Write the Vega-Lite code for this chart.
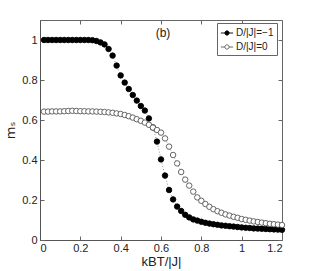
{
"$schema": "https://vega.github.io/schema/vega-lite/v6.json",
"width": 242, "height": 220,
"autosize": "none",
"padding": {"left": 40, "top": 20, "right": 29, "bottom": 31},
"background": "white",
"config": {"font": "Liberation Sans", "view": {"stroke": "#666", "strokeWidth": 1},
  "axis": {"grid": false, "domainColor": "#555", "tickColor": "#666", "tickSize": -4, "labelFontSize": 11, "labelColor": "#222", "titleColor": "#222", "titleFontWeight": "normal", "titleFontSize": 13, "labelFont": "Liberation Sans", "format": "~g"}},
"datasets": {
"pts": [
{"T":0.02,"m":1.0,"s":"D/|J|=−1"},{"T":0.04,"m":1.0,"s":"D/|J|=−1"},{"T":0.06,"m":1.0,"s":"D/|J|=−1"},{"T":0.08,"m":1.0,"s":"D/|J|=−1"},{"T":0.10,"m":1.0,"s":"D/|J|=−1"},{"T":0.12,"m":1.0,"s":"D/|J|=−1"},{"T":0.14,"m":1.0,"s":"D/|J|=−1"},{"T":0.16,"m":1.0,"s":"D/|J|=−1"},{"T":0.18,"m":1.0,"s":"D/|J|=−1"},{"T":0.20,"m":1.0,"s":"D/|J|=−1"},{"T":0.22,"m":1.0,"s":"D/|J|=−1"},{"T":0.24,"m":1.0,"s":"D/|J|=−1"},{"T":0.26,"m":0.999,"s":"D/|J|=−1"},{"T":0.28,"m":0.995,"s":"D/|J|=−1"},{"T":0.30,"m":0.988,"s":"D/|J|=−1"},{"T":0.32,"m":0.978,"s":"D/|J|=−1"},{"T":0.34,"m":0.955,"s":"D/|J|=−1"},{"T":0.36,"m":0.922,"s":"D/|J|=−1"},{"T":0.38,"m":0.872,"s":"D/|J|=−1"},{"T":0.40,"m":0.823,"s":"D/|J|=−1"},{"T":0.42,"m":0.787,"s":"D/|J|=−1"},{"T":0.44,"m":0.755,"s":"D/|J|=−1"},{"T":0.46,"m":0.725,"s":"D/|J|=−1"},{"T":0.48,"m":0.697,"s":"D/|J|=−1"},{"T":0.50,"m":0.670,"s":"D/|J|=−1"},{"T":0.52,"m":0.647,"s":"D/|J|=−1"},{"T":0.54,"m":0.608,"s":"D/|J|=−1"},{"T":0.56,"m":0.563,"s":"D/|J|=−1"},{"T":0.58,"m":0.492,"s":"D/|J|=−1"},{"T":0.60,"m":0.403,"s":"D/|J|=−1"},{"T":0.62,"m":0.322,"s":"D/|J|=−1"},{"T":0.64,"m":0.250,"s":"D/|J|=−1"},{"T":0.66,"m":0.203,"s":"D/|J|=−1"},{"T":0.68,"m":0.167,"s":"D/|J|=−1"},{"T":0.70,"m":0.145,"s":"D/|J|=−1"},{"T":0.72,"m":0.126,"s":"D/|J|=−1"},{"T":0.74,"m":0.113,"s":"D/|J|=−1"},{"T":0.76,"m":0.103,"s":"D/|J|=−1"},{"T":0.78,"m":0.097,"s":"D/|J|=−1"},{"T":0.80,"m":0.091,"s":"D/|J|=−1"},{"T":0.82,"m":0.086,"s":"D/|J|=−1"},{"T":0.84,"m":0.082,"s":"D/|J|=−1"},{"T":0.86,"m":0.079,"s":"D/|J|=−1"},{"T":0.88,"m":0.076,"s":"D/|J|=−1"},{"T":0.90,"m":0.073,"s":"D/|J|=−1"},{"T":0.92,"m":0.071,"s":"D/|J|=−1"},{"T":0.94,"m":0.069,"s":"D/|J|=−1"},{"T":0.96,"m":0.067,"s":"D/|J|=−1"},{"T":0.98,"m":0.065,"s":"D/|J|=−1"},{"T":1.00,"m":0.063,"s":"D/|J|=−1"},{"T":1.02,"m":0.061,"s":"D/|J|=−1"},{"T":1.04,"m":0.060,"s":"D/|J|=−1"},{"T":1.06,"m":0.058,"s":"D/|J|=−1"},{"T":1.08,"m":0.057,"s":"D/|J|=−1"},{"T":1.10,"m":0.056,"s":"D/|J|=−1"},{"T":1.12,"m":0.055,"s":"D/|J|=−1"},{"T":1.14,"m":0.054,"s":"D/|J|=−1"},{"T":1.16,"m":0.053,"s":"D/|J|=−1"},{"T":1.18,"m":0.052,"s":"D/|J|=−1"},{"T":1.20,"m":0.051,"s":"D/|J|=−1"},
{"T":0.02,"m":0.642,"s":"D/|J|=0"},{"T":0.04,"m":0.642,"s":"D/|J|=0"},{"T":0.06,"m":0.643,"s":"D/|J|=0"},{"T":0.08,"m":0.643,"s":"D/|J|=0"},{"T":0.10,"m":0.643,"s":"D/|J|=0"},{"T":0.12,"m":0.644,"s":"D/|J|=0"},{"T":0.14,"m":0.645,"s":"D/|J|=0"},{"T":0.16,"m":0.646,"s":"D/|J|=0"},{"T":0.18,"m":0.645,"s":"D/|J|=0"},{"T":0.20,"m":0.644,"s":"D/|J|=0"},{"T":0.22,"m":0.644,"s":"D/|J|=0"},{"T":0.24,"m":0.643,"s":"D/|J|=0"},{"T":0.26,"m":0.643,"s":"D/|J|=0"},{"T":0.28,"m":0.642,"s":"D/|J|=0"},{"T":0.30,"m":0.641,"s":"D/|J|=0"},{"T":0.32,"m":0.640,"s":"D/|J|=0"},{"T":0.34,"m":0.638,"s":"D/|J|=0"},{"T":0.36,"m":0.636,"s":"D/|J|=0"},{"T":0.38,"m":0.633,"s":"D/|J|=0"},{"T":0.40,"m":0.630,"s":"D/|J|=0"},{"T":0.42,"m":0.625,"s":"D/|J|=0"},{"T":0.44,"m":0.619,"s":"D/|J|=0"},{"T":0.46,"m":0.612,"s":"D/|J|=0"},{"T":0.48,"m":0.604,"s":"D/|J|=0"},{"T":0.50,"m":0.596,"s":"D/|J|=0"},{"T":0.52,"m":0.587,"s":"D/|J|=0"},{"T":0.54,"m":0.576,"s":"D/|J|=0"},{"T":0.56,"m":0.562,"s":"D/|J|=0"},{"T":0.58,"m":0.550,"s":"D/|J|=0"},{"T":0.60,"m":0.537,"s":"D/|J|=0"},{"T":0.62,"m":0.508,"s":"D/|J|=0"},{"T":0.64,"m":0.467,"s":"D/|J|=0"},{"T":0.66,"m":0.425,"s":"D/|J|=0"},{"T":0.68,"m":0.383,"s":"D/|J|=0"},{"T":0.70,"m":0.340,"s":"D/|J|=0"},{"T":0.72,"m":0.302,"s":"D/|J|=0"},{"T":0.74,"m":0.272,"s":"D/|J|=0"},{"T":0.76,"m":0.242,"s":"D/|J|=0"},{"T":0.78,"m":0.213,"s":"D/|J|=0"},{"T":0.80,"m":0.196,"s":"D/|J|=0"},{"T":0.82,"m":0.180,"s":"D/|J|=0"},{"T":0.84,"m":0.166,"s":"D/|J|=0"},{"T":0.86,"m":0.154,"s":"D/|J|=0"},{"T":0.88,"m":0.144,"s":"D/|J|=0"},{"T":0.90,"m":0.136,"s":"D/|J|=0"},{"T":0.92,"m":0.128,"s":"D/|J|=0"},{"T":0.94,"m":0.122,"s":"D/|J|=0"},{"T":0.96,"m":0.116,"s":"D/|J|=0"},{"T":0.98,"m":0.111,"s":"D/|J|=0"},{"T":1.00,"m":0.105,"s":"D/|J|=0"},{"T":1.02,"m":0.101,"s":"D/|J|=0"},{"T":1.04,"m":0.097,"s":"D/|J|=0"},{"T":1.06,"m":0.093,"s":"D/|J|=0"},{"T":1.08,"m":0.090,"s":"D/|J|=0"},{"T":1.10,"m":0.087,"s":"D/|J|=0"},{"T":1.12,"m":0.084,"s":"D/|J|=0"},{"T":1.14,"m":0.081,"s":"D/|J|=0"},{"T":1.16,"m":0.079,"s":"D/|J|=0"},{"T":1.18,"m":0.077,"s":"D/|J|=0"},{"T":1.20,"m":0.075,"s":"D/|J|=0"}
],
"ann": [{"x": 0.61, "y": 1.035, "label": "(b)"}]
},
"resolve": {"axis": {"x": "independent", "y": "independent"}},
"layer": [
 {"data": {"name": "pts"},
  "mark": {"type": "line", "strokeDash": [1, 2], "strokeWidth": 0.8, "color": "#777"},
  "encoding": {
   "x": {"field": "T", "type": "quantitative", "scale": {"domain": [0, 1.2], "nice": false}, "axis": {"orient": "top", "labels": false, "title": null, "domain": false, "values": [0,0.2,0.4,0.6,0.8,1,1.2]}},
   "y": {"field": "m", "type": "quantitative", "scale": {"domain": [0, 1.1], "nice": false}, "axis": {"orient": "right", "labels": false, "title": null, "domain": false, "values": [0,0.2,0.4,0.6,0.8,1]}},
   "detail": {"field": "s"}
  }},
 {"data": {"name": "pts"},
  "mark": {"type": "point", "shape": "circle", "size": 30, "strokeWidth": 0.9, "opacity": 1, "fillOpacity": 1},
  "encoding": {
   "x": {"field": "T", "type": "quantitative", "scale": {"domain": [0, 1.2], "nice": false}, "axis": {"orient": "bottom", "title": "kBT/|J|", "values": [0,0.2,0.4,0.6,0.8,1,1.2], "labelPadding": 6, "titlePadding": 2}},
   "y": {"field": "m", "type": "quantitative", "scale": {"domain": [0, 1.1], "nice": false}, "axis": {"orient": "left", "title": "mₛ", "titleFont": "DejaVu Sans", "values": [0,0.2,0.4,0.6,0.8,1], "labelPadding": 7, "titlePadding": 4}},
   "fill": {"field": "s", "type": "nominal", "scale": {"domain": ["D/|J|=−1", "D/|J|=0"], "range": ["#000000", "#ffffff"]},
     "legend": {"title": null, "orient": "none", "legendX": 177, "legendY": 3, "strokeColor": "#666", "fillColor": "white", "padding": 3, "labelFontSize": 10, "labelColor": "#222", "rowPadding": 2, "labelOffset": 2, "symbolSize": 150, "symbolStrokeWidth": 0.9, "symbolType": "M-1,0H-0.35M0.35,0H1M-0.35,0A0.35,0.35 0 1,0 0.35,0A0.35,0.35 0 1,0 -0.35,0"}},
   "stroke": {"field": "s", "type": "nominal", "scale": {"domain": ["D/|J|=−1", "D/|J|=0"], "range": ["#000000", "#555555"]}, "legend": null}
  }},
 {"data": {"name": "ann"},
  "mark": {"type": "text", "fontSize": 12, "color": "#222"},
  "encoding": {
   "x": {"field": "x", "type": "quantitative", "scale": {"domain": [0, 1.2], "nice": false}, "axis": null},
   "y": {"field": "y", "type": "quantitative", "scale": {"domain": [0, 1.1], "nice": false}, "axis": null},
   "text": {"field": "label"}
  }}
]
}
